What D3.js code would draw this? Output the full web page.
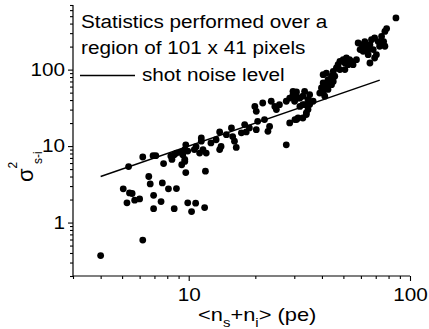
<!DOCTYPE html>
<html>
<head>
<meta charset="utf-8">
<script src="https://cdn.jsdelivr.net/npm/d3@7"></script>
<style>
  body { margin: 0; background: #fff; }
  text { font-family: "Liberation Sans", Arial, sans-serif; fill: #000; }
</style>
</head>
<body>
<svg id="chart"></svg>
<script>
// Mean photoelectron count <ns+ni> (x) and measured variance sigma^2 s-i (y)
let meanCounts = [
  4.0, 6.2, 5.35, 6.2, 6.9, 7.1, 6.6, 6.7, 5.06, 5.4, 5.55, 5.26, 5.7, 6.0, 6.94, 6.94,
  7.5, 7.6, 8.1, 8.8, 8.6, 9.9, 10.3, 10.75, 11.8, 9.7, 11.9, 7.7, 8.4, 8.8, 9.2, 9.6,
  9.3, 8.3, 9.6, 8.6, 9.7, 10.8, 11.4, 11.6, 12.0, 9.4, 9.6, 9.9, 10.6, 11.4, 11.2, 12.6,
  13.3, 13.8, 14.0, 13.8, 14.8, 15.8, 15.6, 16.1, 16.4, 17.3, 17.9, 18.2, 18.8, 20.2, 20.5,
  19.9, 20.2, 21.6, 22.0, 23.2, 22.8, 23.6, 24.5, 24.9, 25.7, 27.6, 28.6, 27.6, 28.6, 29.6,
  30.7, 30.2, 31.2, 31.8, 32.8, 33.4, 34.0, 86.4, 78.4, 77.0, 74.4, 76.0, 77.0, 72.9, 71.8,
  69.2, 67.0, 65.9, 68.2, 64.7, 62.5, 60.6, 59.5, 61.4, 64.7, 70.5, 69.2, 65.9, 58.3, 62.5,
  57.3, 53.3, 51.6, 49.9, 50.8, 52.5, 55.3, 54.4, 48.2, 47.3, 46.5, 45.0, 48.2, 50.8, 41.9,
  40.5, 44.2, 45.7, 42.6, 40.5, 39.8, 41.2, 41.9, 39.1, 40.5, 42.6, 44.2, 45.0, 41.2, 35.2,
  34.6, 35.2, 32.8, 31.2, 30.7, 31.8, 30.1, 29.6, 33.4, 34.0, 32.8, 30.7, 34.6, 36.5
];
let variances = [
  0.37, 0.59, 5.4, 7.2, 7.5, 7.5, 4.0, 3.2, 2.76, 2.44, 2.4, 1.81, 1.96, 2.04, 2.27, 1.52,
  1.88, 3.3, 2.76, 2.78, 1.52, 1.81, 1.39, 1.79, 1.57, 4.5, 4.7, 5.9, 6.7, 8.1, 8.3, 6.7,
  5.7, 7.4, 9.0, 7.7, 10.4, 9.8, 11.6, 9.0, 8.1, 7.7, 6.3, 8.6, 9.0, 12.8, 8.1, 11.0,
  12.1, 15.3, 9.9, 9.0, 14.1, 13.3, 17.3, 11.6, 9.6, 14.9, 19.1, 15.3, 17.3, 16.4, 21.1,
  33, 28.5, 36.6, 22.2, 18.1, 15.6, 38.6, 33, 30, 34.8, 38.6, 42.5, 10.4, 20.1, 52,
  44.8, 22.2, 23.3, 42.5, 34.8, 52, 25.8, 474, 344, 316, 272, 233, 202, 202, 233,
  259, 246, 212, 183, 183, 202, 212, 183, 174, 157, 157, 142, 122, 223, 233,
  135, 135, 142, 135, 122, 116, 116, 128, 128, 116, 105, 95, 100, 100, 90,
  86, 82, 82, 74, 67, 57.5, 57.5, 63.5, 49.4, 49.4, 55, 63.5, 70, 45, 47,
  40.5, 35, 45, 42.5, 51, 33, 38.6, 47, 34.8, 27.2, 23.3, 22.2, 30, 38.6
];
// Shot noise level reference line end points
let shotNoiseX = [4, 73];
let shotNoiseY = [4, 73];
let xLabels = [10, 100];
let yLabels = [1, 10, 100];

let width = 429, height = 329;
let margin = {top: 5, right: 19, bottom: 53, left: 73};
let stretchK = 1.15;

let svg = d3.select("#chart")
  .attr("width", width)
  .attr("height", height);

svg.append("rect").attr("width", width).attr("height", height).attr("fill", "#fff");

let xScale = d3.scaleLog()
  .domain([3, 100])
  .range([margin.left, width - margin.right]);

let yScale = d3.scaleLog()
  .domain([0.2, 700])
  .range([height - margin.bottom, margin.top]);

// widen text a bit, the original glyphs are horizontally stretched
function stretch(sel) {
  sel.each(function() {
    let w = this.getComputedTextLength();
    d3.select(this).attr("textLength", w * stretchK).attr("lengthAdjust", "spacingAndGlyphs");
  });
}

// x axis
let xAxis = svg.append("g")
  .attr("transform", `translate(0, ${height - margin.bottom})`)
  .call(d3.axisBottom(xScale)
    .tickValues(xScale.ticks())
    .tickSize(5)
    .tickPadding(7)
    .tickFormat(d => xLabels.includes(d) ? d : ""));
xAxis.select(".domain").attr("d", `M${margin.left},0H${width - margin.right}`).attr("stroke-width", 1.2);
xAxis.selectAll(".tick line")
  .attr("y2", d => xLabels.includes(d) ? 5 : 3)
  .attr("stroke-width", 1.1);
xAxis.selectAll("text").attr("font-size", 18).attr("font-family", null);

// y axis
let yAxis = svg.append("g")
  .attr("transform", `translate(${margin.left}, 0)`)
  .call(d3.axisLeft(yScale)
    .tickValues(yScale.ticks())
    .tickSize(5)
    .tickPadding(3)
    .tickFormat(d => yLabels.includes(d) ? d : ""));
yAxis.select(".domain").attr("d", `M0,${margin.top}V${height - margin.bottom}`).attr("stroke-width", 1.2);
yAxis.selectAll(".tick line")
  .attr("x2", d => yLabels.includes(d) ? -5 : -3)
  .attr("stroke-width", 1.1);
yAxis.selectAll("text").attr("font-size", 18).attr("font-family", null);

stretch(xAxis.selectAll("text").filter(d => xLabels.includes(d)));
stretch(yAxis.selectAll("text").filter(d => yLabels.includes(d)));

// shot noise line
svg.append("line")
  .attr("x1", xScale(shotNoiseX[0]))
  .attr("y1", yScale(shotNoiseY[0]))
  .attr("x2", xScale(shotNoiseX[1]))
  .attr("y2", yScale(shotNoiseY[1]))
  .attr("stroke", "#000")
  .attr("stroke-width", 1.4);

// data points
svg.append("g")
  .selectAll("circle")
  .data(meanCounts)
  .join("circle")
  .attr("cx", d => xScale(d))
  .attr("cy", (d, i) => yScale(variances[i]))
  .attr("r", 3.4)
  .attr("fill", "#000");

// legend
let legend = svg.append("g");
legend.append("text").attr("x", 81).attr("y", 28).attr("font-size", 18)
  .text("Statistics performed over a");
legend.append("text").attr("x", 81).attr("y", 54).attr("font-size", 18)
  .text("region of 101 x 41 pixels");
legend.append("line")
  .attr("x1", 80).attr("x2", 135).attr("y1", 75.5).attr("y2", 75.5)
  .attr("stroke", "#000").attr("stroke-width", 1.4);
legend.append("text").attr("x", 142).attr("y", 81).attr("font-size", 18)
  .text("shot noise level");
stretch(legend.selectAll("text"));

// x axis title
let xTitle = svg.append("text")
  .attr("x", 198)
  .attr("y", 321)
  .attr("font-size", 19);
xTitle.append("tspan").text("<n");
xTitle.append("tspan").attr("dy", 6).attr("font-size", 13).text("s");
xTitle.append("tspan").attr("dy", -6).text("+n");
xTitle.append("tspan").attr("dy", 6).attr("font-size", 13).text("i");
xTitle.append("tspan").attr("dy", -6).text("> (pe)");
stretch(xTitle);

// y axis title
let yTitle = svg.append("g").attr("transform", "translate(33, 182) rotate(-90)");
yTitle.append("text").attr("x", 0).attr("y", 0).attr("font-size", 22).text("σ");
yTitle.append("text").attr("x", 13.5).attr("y", -16.5).attr("font-size", 12).text("2");
yTitle.append("text").attr("x", 18).attr("y", 8.7).attr("font-size", 12).text("s-i");
</script>
</body>
</html>
